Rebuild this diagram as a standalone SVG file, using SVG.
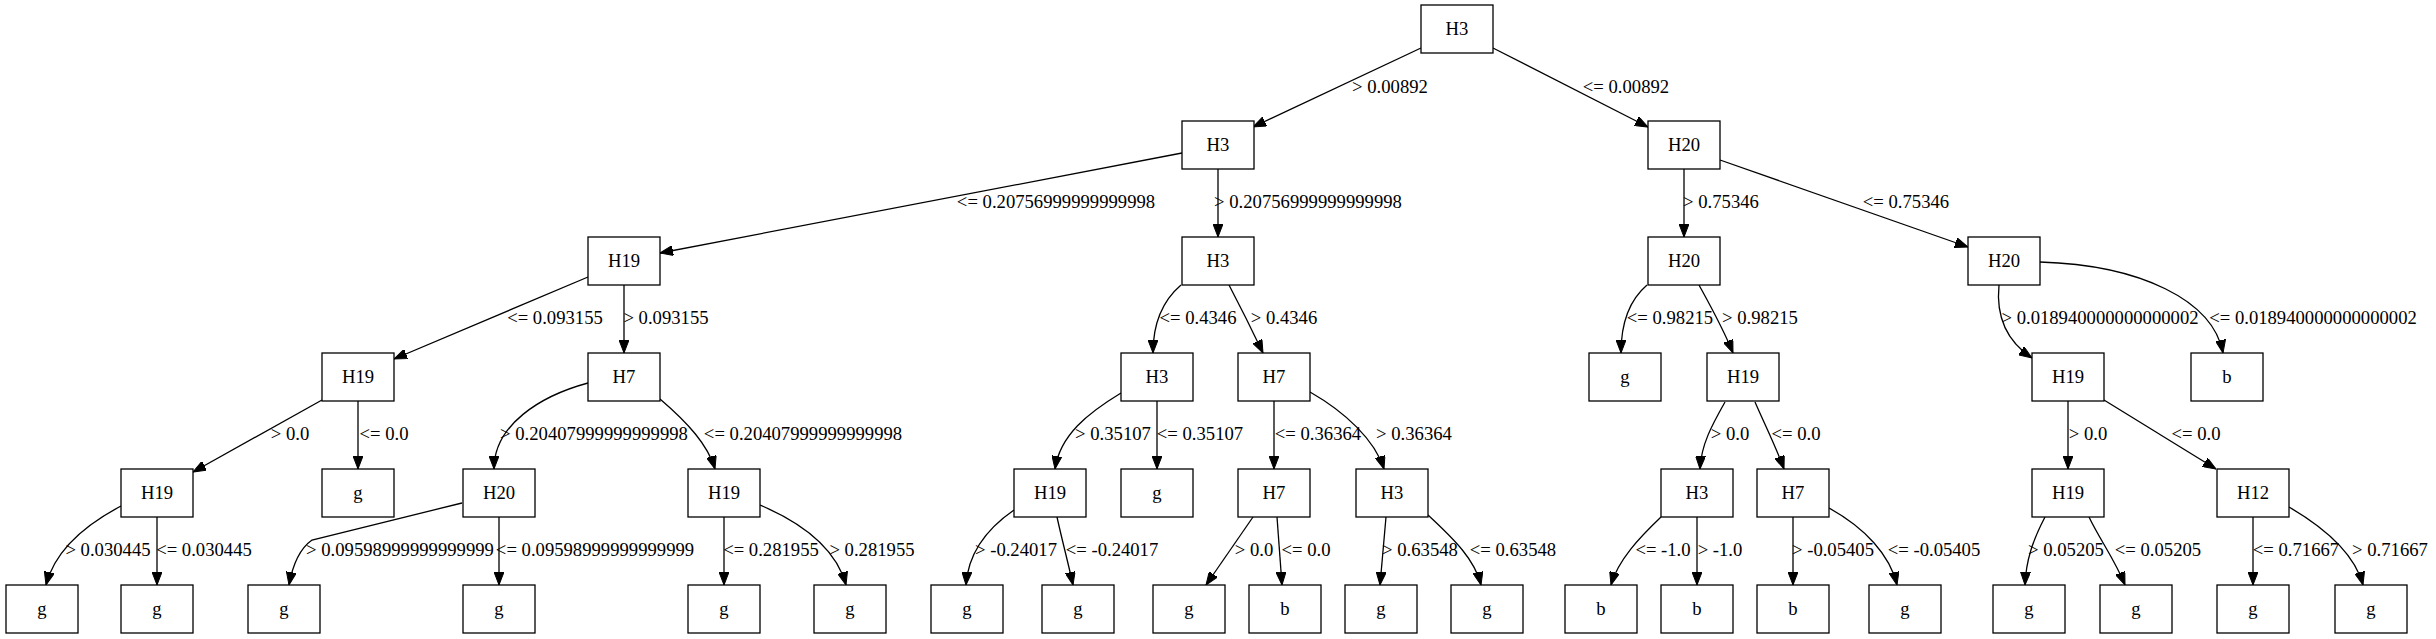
<svg xmlns="http://www.w3.org/2000/svg" width="2436" height="639" viewBox="0 0 2436 639">
<style>
.node rect{fill:#fff;stroke:#000;stroke-width:1.3}
.node text,.lbl{font-family:"Liberation Serif","Times New Roman",serif;font-size:18.67px;fill:#000;text-anchor:middle}
.edges path{fill:none;stroke:#000;stroke-width:1.3;marker-end:url(#arr)}
</style>
<defs>
<marker id="arr" markerUnits="userSpaceOnUse" viewBox="0 0 13 10" markerWidth="13" markerHeight="10" refX="13" refY="5" orient="auto">
<path d="M0,0 L13,5 L0,10 z" fill="#000" stroke="#000" stroke-width="1"/>
</marker>
</defs>
<rect width="2436" height="639" fill="#fff"/>
<g class="edges">
<path d="M1421,48 L1253,127"/>
<path d="M1493,48 L1648,127"/>
<path d="M1182,153 L660,253"/>
<path d="M1218,169 L1218,237"/>
<path d="M1684,169 L1684,237"/>
<path d="M1720,160 L1968,247"/>
<path d="M588,277 L394,359"/>
<path d="M624,285 L624,353"/>
<path d="M1181,285 C1167,297 1153,318 1153,353"/>
<path d="M1229,285 C1240,306 1252,330 1263,353"/>
<path d="M1647,285 C1633,297 1621,318 1621,353"/>
<path d="M1699,285 C1710,305 1723,328 1733,353"/>
<path d="M1999,285 C1996,315 2005,340 2032,358"/>
<path d="M2040,262 C2140,265 2213,300 2223,353"/>
<path d="M322,400 L193,472"/>
<path d="M358,401 L358,469"/>
<path d="M588,383 C540,396 494,425 494,469"/>
<path d="M660,399 C688,423 708,445 715,469"/>
<path d="M1121,393 C1088,413 1060,435 1055,469"/>
<path d="M1157,401 L1157,469"/>
<path d="M1274,401 L1274,469"/>
<path d="M1310,392 C1345,412 1375,440 1384,469"/>
<path d="M1725,402 C1712,425 1701,445 1700,469"/>
<path d="M1755,402 C1765,425 1776,447 1784,469"/>
<path d="M2068,401 L2068,469"/>
<path d="M2104,400 L2216,469"/>
<path d="M121,506 C85,525 55,550 46,585"/>
<path d="M157,517 L157,585"/>
<path d="M462,503 L312,540 Q295,552 289,585"/>
<path d="M499,517 L499,585"/>
<path d="M724,517 L724,585"/>
<path d="M760,505 C800,522 836,548 846,585"/>
<path d="M1014,510 C985,530 968,555 966,585"/>
<path d="M1057,517 C1062,540 1068,562 1073,585"/>
<path d="M1253,517 L1206,585"/>
<path d="M1277,517 L1282,585"/>
<path d="M1386,517 L1380,585"/>
<path d="M1428,515 C1455,540 1475,560 1481,585"/>
<path d="M1661,517 C1640,537 1618,560 1611,585"/>
<path d="M1697,517 L1697,585"/>
<path d="M1793,517 L1793,585"/>
<path d="M1829,508 C1865,528 1890,555 1897,585"/>
<path d="M2045,517 C2033,540 2026,560 2025,585"/>
<path d="M2089,517 C2100,540 2115,560 2125,585"/>
<path d="M2253,517 L2253,585"/>
<path d="M2289,507 C2325,528 2355,555 2363,585"/>
</g>
<g class="labels">
<text class="lbl" x="1390" y="93">&gt; 0.00892</text>
<text class="lbl" x="1626" y="93">&lt;= 0.00892</text>
<text class="lbl" x="1056" y="208">&lt;= 0.20756999999999998</text>
<text class="lbl" x="1308" y="208">&gt; 0.20756999999999998</text>
<text class="lbl" x="1721" y="208">&gt; 0.75346</text>
<text class="lbl" x="1906" y="208">&lt;= 0.75346</text>
<text class="lbl" x="555" y="324">&lt;= 0.093155</text>
<text class="lbl" x="666" y="324">&gt; 0.093155</text>
<text class="lbl" x="1198" y="324">&lt;= 0.4346</text>
<text class="lbl" x="1284" y="324">&gt; 0.4346</text>
<text class="lbl" x="1670" y="324">&lt;= 0.98215</text>
<text class="lbl" x="1760" y="324">&gt; 0.98215</text>
<text class="lbl" x="2100" y="324">&gt; 0.018940000000000002</text>
<text class="lbl" x="2313" y="324">&lt;= 0.018940000000000002</text>
<text class="lbl" x="290" y="440">&gt; 0.0</text>
<text class="lbl" x="384" y="440">&lt;= 0.0</text>
<text class="lbl" x="594" y="440">&gt; 0.20407999999999998</text>
<text class="lbl" x="803" y="440">&lt;= 0.20407999999999998</text>
<text class="lbl" x="1113" y="440">&gt; 0.35107</text>
<text class="lbl" x="1200" y="440">&lt;= 0.35107</text>
<text class="lbl" x="1318" y="440">&lt;= 0.36364</text>
<text class="lbl" x="1414" y="440">&gt; 0.36364</text>
<text class="lbl" x="1730" y="440">&gt; 0.0</text>
<text class="lbl" x="1796" y="440">&lt;= 0.0</text>
<text class="lbl" x="2088" y="440">&gt; 0.0</text>
<text class="lbl" x="2196" y="440">&lt;= 0.0</text>
<text class="lbl" x="108" y="556">&gt; 0.030445</text>
<text class="lbl" x="204" y="556">&lt;= 0.030445</text>
<text class="lbl" x="400" y="556">&gt; 0.09598999999999999</text>
<text class="lbl" x="595" y="556">&lt;= 0.09598999999999999</text>
<text class="lbl" x="771" y="556">&lt;= 0.281955</text>
<text class="lbl" x="872" y="556">&gt; 0.281955</text>
<text class="lbl" x="1016" y="556">&gt; -0.24017</text>
<text class="lbl" x="1112" y="556">&lt;= -0.24017</text>
<text class="lbl" x="1254" y="556">&gt; 0.0</text>
<text class="lbl" x="1306" y="556">&lt;= 0.0</text>
<text class="lbl" x="1420" y="556">&gt; 0.63548</text>
<text class="lbl" x="1513" y="556">&lt;= 0.63548</text>
<text class="lbl" x="1663" y="556">&lt;= -1.0</text>
<text class="lbl" x="1720" y="556">&gt; -1.0</text>
<text class="lbl" x="1833" y="556">&gt; -0.05405</text>
<text class="lbl" x="1934" y="556">&lt;= -0.05405</text>
<text class="lbl" x="2066" y="556">&gt; 0.05205</text>
<text class="lbl" x="2158" y="556">&lt;= 0.05205</text>
<text class="lbl" x="2296" y="556">&lt;= 0.71667</text>
<text class="lbl" x="2390" y="556">&gt; 0.71667</text>
</g>
<g id="n0" class="node"><rect x="1421" y="5" width="72" height="48"/><text x="1457" y="35">H3</text></g>
<g id="n1" class="node"><rect x="1182" y="121" width="72" height="48"/><text x="1218" y="151">H3</text></g>
<g id="n2" class="node"><rect x="1648" y="121" width="72" height="48"/><text x="1684" y="151">H20</text></g>
<g id="n3" class="node"><rect x="588" y="237" width="72" height="48"/><text x="624" y="267">H19</text></g>
<g id="n4" class="node"><rect x="1182" y="237" width="72" height="48"/><text x="1218" y="267">H3</text></g>
<g id="n5" class="node"><rect x="1648" y="237" width="72" height="48"/><text x="1684" y="267">H20</text></g>
<g id="n6" class="node"><rect x="1968" y="237" width="72" height="48"/><text x="2004" y="267">H20</text></g>
<g id="n7" class="node"><rect x="322" y="353" width="72" height="48"/><text x="358" y="383">H19</text></g>
<g id="n8" class="node"><rect x="588" y="353" width="72" height="48"/><text x="624" y="383">H7</text></g>
<g id="n9" class="node"><rect x="1121" y="353" width="72" height="48"/><text x="1157" y="383">H3</text></g>
<g id="n10" class="node"><rect x="1238" y="353" width="72" height="48"/><text x="1274" y="383">H7</text></g>
<g id="n11" class="node"><rect x="1589" y="353" width="72" height="48"/><text x="1625" y="383">g</text></g>
<g id="n12" class="node"><rect x="1707" y="353" width="72" height="48"/><text x="1743" y="383">H19</text></g>
<g id="n13" class="node"><rect x="2032" y="353" width="72" height="48"/><text x="2068" y="383">H19</text></g>
<g id="n14" class="node"><rect x="2191" y="353" width="72" height="48"/><text x="2227" y="383">b</text></g>
<g id="n15" class="node"><rect x="121" y="469" width="72" height="48"/><text x="157" y="499">H19</text></g>
<g id="n16" class="node"><rect x="322" y="469" width="72" height="48"/><text x="358" y="499">g</text></g>
<g id="n17" class="node"><rect x="463" y="469" width="72" height="48"/><text x="499" y="499">H20</text></g>
<g id="n18" class="node"><rect x="688" y="469" width="72" height="48"/><text x="724" y="499">H19</text></g>
<g id="n19" class="node"><rect x="1014" y="469" width="72" height="48"/><text x="1050" y="499">H19</text></g>
<g id="n20" class="node"><rect x="1121" y="469" width="72" height="48"/><text x="1157" y="499">g</text></g>
<g id="n21" class="node"><rect x="1238" y="469" width="72" height="48"/><text x="1274" y="499">H7</text></g>
<g id="n22" class="node"><rect x="1356" y="469" width="72" height="48"/><text x="1392" y="499">H3</text></g>
<g id="n23" class="node"><rect x="1661" y="469" width="72" height="48"/><text x="1697" y="499">H3</text></g>
<g id="n24" class="node"><rect x="1757" y="469" width="72" height="48"/><text x="1793" y="499">H7</text></g>
<g id="n25" class="node"><rect x="2032" y="469" width="72" height="48"/><text x="2068" y="499">H19</text></g>
<g id="n26" class="node"><rect x="2217" y="469" width="72" height="48"/><text x="2253" y="499">H12</text></g>
<g id="n27" class="node"><rect x="6" y="585" width="72" height="48"/><text x="42" y="615">g</text></g>
<g id="n28" class="node"><rect x="121" y="585" width="72" height="48"/><text x="157" y="615">g</text></g>
<g id="n29" class="node"><rect x="248" y="585" width="72" height="48"/><text x="284" y="615">g</text></g>
<g id="n30" class="node"><rect x="463" y="585" width="72" height="48"/><text x="499" y="615">g</text></g>
<g id="n31" class="node"><rect x="688" y="585" width="72" height="48"/><text x="724" y="615">g</text></g>
<g id="n32" class="node"><rect x="814" y="585" width="72" height="48"/><text x="850" y="615">g</text></g>
<g id="n33" class="node"><rect x="931" y="585" width="72" height="48"/><text x="967" y="615">g</text></g>
<g id="n34" class="node"><rect x="1042" y="585" width="72" height="48"/><text x="1078" y="615">g</text></g>
<g id="n35" class="node"><rect x="1153" y="585" width="72" height="48"/><text x="1189" y="615">g</text></g>
<g id="n36" class="node"><rect x="1249" y="585" width="72" height="48"/><text x="1285" y="615">b</text></g>
<g id="n37" class="node"><rect x="1345" y="585" width="72" height="48"/><text x="1381" y="615">g</text></g>
<g id="n38" class="node"><rect x="1451" y="585" width="72" height="48"/><text x="1487" y="615">g</text></g>
<g id="n39" class="node"><rect x="1565" y="585" width="72" height="48"/><text x="1601" y="615">b</text></g>
<g id="n40" class="node"><rect x="1661" y="585" width="72" height="48"/><text x="1697" y="615">b</text></g>
<g id="n41" class="node"><rect x="1757" y="585" width="72" height="48"/><text x="1793" y="615">b</text></g>
<g id="n42" class="node"><rect x="1869" y="585" width="72" height="48"/><text x="1905" y="615">g</text></g>
<g id="n43" class="node"><rect x="1993" y="585" width="72" height="48"/><text x="2029" y="615">g</text></g>
<g id="n44" class="node"><rect x="2100" y="585" width="72" height="48"/><text x="2136" y="615">g</text></g>
<g id="n45" class="node"><rect x="2217" y="585" width="72" height="48"/><text x="2253" y="615">g</text></g>
<g id="n46" class="node"><rect x="2335" y="585" width="72" height="48"/><text x="2371" y="615">g</text></g>
</svg>
